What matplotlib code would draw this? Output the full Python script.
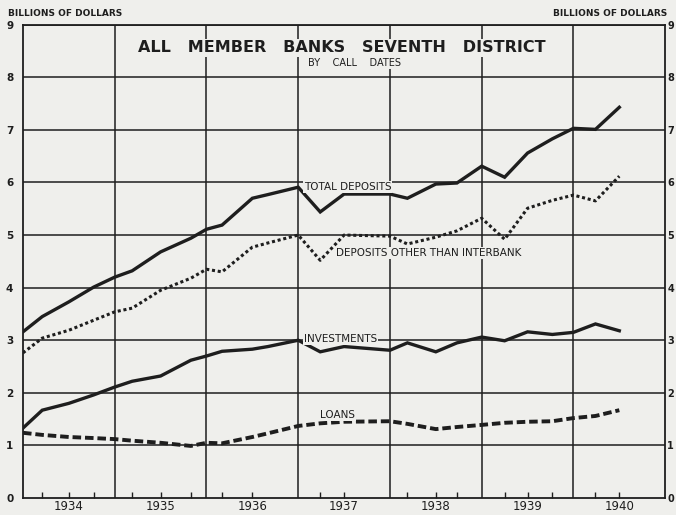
import numpy as np
import matplotlib
matplotlib.use('Agg')
import matplotlib.pyplot as plt

# даты отчетов (доли года)
dates = [1933.50, 1933.71, 1934.00, 1934.27, 1934.50, 1934.69, 1935.00, 1935.33,
         1935.50, 1935.67, 1936.00, 1936.17, 1936.50, 1936.74, 1937.00, 1937.50,
         1937.69, 1938.00, 1938.23, 1938.50, 1938.75, 1939.00, 1939.27, 1939.50,
         1939.74, 1940.00]

total_deposits = [3.16, 3.45, 3.73, 4.01, 4.20, 4.32, 4.68, 4.94, 5.11, 5.19, 5.70, 5.77,
                  5.91, 5.44, 5.78, 5.78, 5.70, 5.97, 5.99, 6.31, 6.10, 6.56, 6.83, 7.03,
                  7.01, 7.43]
other_deposits = [2.76, 3.04, 3.19, 3.38, 3.54, 3.61, 3.95, 4.18, 4.35, 4.30, 4.77, 4.85,
                  5.00, 4.52, 5.00, 4.98, 4.83, 4.96, 5.08, 5.32, 4.92, 5.51, 5.66, 5.76,
                  5.65, 6.12]
investments = [1.33, 1.67, 1.80, 1.96, 2.11, 2.22, 2.32, 2.62, 2.70, 2.79, 2.83, 2.88,
               3.00, 2.78, 2.88, 2.81, 2.95, 2.78, 2.95, 3.06, 2.99, 3.16, 3.11, 3.15,
               3.31, 3.18]
loans = [1.24, 1.20, 1.16, 1.14, 1.12, 1.09, 1.05, 0.99, 1.05, 1.04, 1.16, 1.23,
         1.37, 1.42, 1.45, 1.46, 1.41, 1.31, 1.35, 1.39, 1.43, 1.45, 1.46, 1.52,
         1.56, 1.67]

tick_dates = [1933.71, 1934.00, 1934.27, 1934.69, 1935.00, 1935.33, 1935.67, 1936.00,
              1936.74, 1937.00, 1937.69, 1938.00, 1938.23, 1938.75, 1939.00, 1939.27,
              1939.74, 1940.00]
years = [1934, 1935, 1936, 1937, 1938, 1939, 1940]
grid_x = [1934.5, 1935.5, 1936.5, 1937.5, 1938.5, 1939.5]
y_ticks = list(range(0, 10))

bg = '#efefec'
ink = '#1e1e1e'

fig = plt.figure(figsize=(6.76, 5.15), dpi=100, facecolor=bg)
ax = fig.add_axes([0.034, 0.033, 0.950, 0.919], facecolor=bg)

ax.set_xlim(1933.5, 1940.5)
ax.set_ylim(0, 9)

# сетка
for v in y_ticks[1:]:
    ax.axhline(v, color=ink, lw=1.1, zorder=1)
for g in grid_x:
    ax.axvline(g, color=ink, lw=1.1, zorder=1)

# линии
ax.plot(dates, total_deposits, color=ink, lw=2.4, solid_joinstyle='miter', zorder=3)
ax.plot(dates, other_deposits, color=ink, lw=2.2, linestyle=(0, (1.0, 0.9)),
        dash_capstyle='butt', zorder=3)
ax.plot(dates, investments, color=ink, lw=2.4, solid_joinstyle='miter', zorder=3)
ax.plot(dates, loans, color=ink, lw=2.8, linestyle=(0, (2.2, 1.0)),
        dash_capstyle='butt', zorder=3)

for s in ax.spines.values():
    s.set_color(ink)
    s.set_linewidth(1.3)

# оси
ax.set_xticks(tick_dates)
ax.set_xticklabels([])
ax.tick_params(axis='x', direction='in', length=4, width=1, color=ink)
for yr in years:
    ax.text(yr, -0.165, str(yr), ha='center', va='center', fontsize=8.5, color=ink)

ax.set_yticks(y_ticks)
ax.set_yticklabels([str(v) for v in y_ticks], fontsize=7.5, color=ink, fontweight='bold')
ax.tick_params(axis='y', length=0, pad=7)

ax2 = ax.twinx()
ax2.set_ylim(0, 9)
ax2.set_yticks(y_ticks)
ax2.set_yticklabels([str(v) for v in y_ticks], fontsize=7, color=ink, fontweight='bold')
ax2.tick_params(axis='y', length=0, pad=1.5)
for s in ax2.spines.values():
    s.set_visible(False)

fig.text(0.012, 0.965, 'BILLIONS OF DOLLARS', fontsize=6.5, color=ink,
         fontweight='bold', va='bottom', ha='left')
fig.text(0.818, 0.965, 'BILLIONS OF DOLLARS', fontsize=6.5, color=ink,
         fontweight='bold', va='bottom', ha='left')

# заголовок
ax.text(0.497, 0.951, 'ALL   MEMBER   BANKS   SEVENTH   DISTRICT', transform=ax.transAxes,
        ha='center', va='center', fontsize=11.5, fontweight='bold', color=ink,
        bbox=dict(facecolor=bg, edgecolor='none', pad=1), zorder=4)
ax.text(0.516, 0.919, 'BY    CALL    DATES', transform=ax.transAxes,
        ha='center', va='center', fontsize=7, color=ink,
        bbox=dict(facecolor=bg, edgecolor='none', pad=0.5), zorder=4)

# подписи линий
lbl = dict(fontsize=7.5, color=ink, va='center', ha='left', zorder=4,
           bbox=dict(facecolor=bg, edgecolor='none', pad=0.8))
ax.text(1936.56, 5.92, 'TOTAL DEPOSITS', **lbl)
ax.text(1936.91, 4.66, 'DEPOSITS OTHER THAN INTERBANK', **lbl)
ax.text(1936.56, 3.03, 'INVESTMENTS', **lbl)
ax.text(1936.74, 1.58, 'LOANS', **lbl)

fig.savefig('out.png', dpi=100, facecolor=bg)
